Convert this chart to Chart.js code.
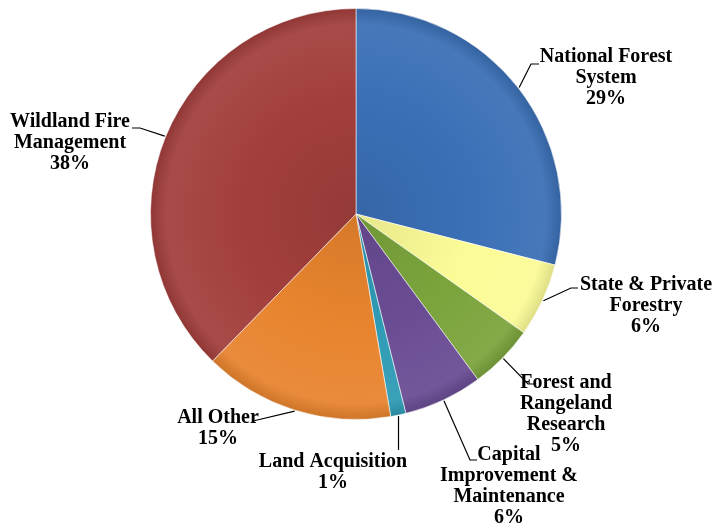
<!DOCTYPE html>
<html>
<head>
<meta charset="utf-8">
<script src="https://cdn.jsdelivr.net/npm/chart.js@4.4.0/dist/chart.umd.min.js"></script>
<style>
  html, body { margin: 0; padding: 0; background: #fff; }
</style>
</head>
<body>
<canvas id="budgetChart" width="712" height="529"></canvas>
<script>
// Data
const categories = ['National Forest System', 'State & Private Forestry', 'Forest and Rangeland Research',
  'Capital Improvement & Maintenance', 'Land Acquisition', 'All Other', 'Wildland Fire Management'];
const shares = [29.0, 5.8, 5.1, 6.2, 1.2, 15.0, 37.7];
const pctLabels = ['29%', '6%', '5%', '6%', '1%', '15%', '38%'];
const labelLines = [
  ['National Forest', 'System'],
  ['State & Private', 'Forestry'],
  ['Forest and', 'Rangeland', 'Research'],
  ['Capital', 'Improvement &', 'Maintenance'],
  ['Land Acquisition'],
  ['All Other'],
  ['Wildland Fire', 'Management']
];

// Slice colours (base)
const sliceColors = ['#3b6fb6', '#fbfb97', '#7ba43c', '#6a4c94', '#2e9bb4', '#e8842e', '#a23f3c'];

// Where each label sits: text centre x, first line y, and the leader line bend/end
const labelLayout = [
  { x: 606, y: 57, bend: [531, 64], end: [539, 64] },
  { x: 646, y: 285, bend: [571, 288], end: [578, 288] },
  { x: 566, y: 383, bend: [528, 384], end: [534, 384] },
  { x: 509, y: 455, bend: [470, 460], end: [477, 460] },
  { x: 333, y: 462, bend: null, end: [null, 450] },
  { x: 218, y: 418, bend: null, end: [253, 421] },
  { x: 70, y: 122, bend: [140, 128], end: [132, 128] }
];

const FONT = 'bold 20px "Liberation Serif"';

function shade(hex, amt) {
  const n = parseInt(hex.slice(1), 16);
  let r = (n >> 16) & 255, g = (n >> 8) & 255, b = n & 255;
  const f = v => Math.max(0, Math.min(255, Math.round(amt >= 0 ? v + (255 - v) * amt : v * (1 + amt))));
  return `rgb(${f(r)},${f(g)},${f(b)})`;
}

// Bevel-ish radial shading per slice
function sliceFill(ctx) {
  const chart = ctx.chart;
  const area = chart.chartArea;
  const base = sliceColors[ctx.dataIndex];
  if (!area) return base;
  const cx = (area.left + area.right) / 2;
  const cy = (area.top + area.bottom) / 2;
  const r = Math.min(area.right - area.left, area.bottom - area.top) / 2;
  const g = chart.ctx.createRadialGradient(cx, cy, 0, cx, cy, r);
  g.addColorStop(0, shade(base, -0.08));
  g.addColorStop(0.55, base);
  g.addColorStop(0.92, shade(base, 0.06));
  g.addColorStop(1, shade(base, -0.12));
  return g;
}

// Outside labels with leader lines
const outsideLabels = {
  id: 'outsideLabels',
  afterDatasetsDraw(chart) {
    const ctx = chart.ctx;
    const meta = chart.getDatasetMeta(0);
    ctx.save();
    ctx.strokeStyle = '#000';
    ctx.lineWidth = 1.2;
    ctx.fillStyle = '#000';
    ctx.font = FONT;
    ctx.textAlign = 'center';
    ctx.textBaseline = 'middle';
    meta.data.forEach((arc, i) => {
      const p = arc.getProps(['x', 'y', 'startAngle', 'endAngle', 'outerRadius'], true);
      const mid = (p.startAngle + p.endAngle) / 2;
      const ax = p.x + Math.cos(mid) * (p.outerRadius + 1);
      const ay = p.y + Math.sin(mid) * (p.outerRadius + 1);
      const lay = labelLayout[i];
      ctx.beginPath();
      ctx.moveTo(ax, ay);
      if (lay.bend) ctx.lineTo(lay.bend[0], lay.bend[1]);
      ctx.lineTo(lay.end[0] === null ? ax : lay.end[0], lay.end[1]);
      ctx.stroke();
      const lines = labelLines[i].concat([pctLabels[i]]);
      lines.forEach((t, k) => ctx.fillText(t, lay.x, lay.y + k * 21));
    });
    ctx.restore();
  }
};

function draw() {
  new Chart(document.getElementById('budgetChart'), {
    type: 'pie',
    data: {
      labels: categories,
      datasets: [{
        data: shares,
        backgroundColor: sliceFill,
        borderColor: 'rgba(255,255,255,0.55)',
        borderWidth: 1
      }]
    },
    options: {
      responsive: false,
      animation: false,
      layout: { padding: { left: 150, right: 150, top: 8, bottom: 109 } },
      plugins: {
        legend: { display: false },
        tooltip: { enabled: false }
      }
    },
    plugins: [outsideLabels]
  });
}

document.fonts.load(FONT).then(draw, draw);
</script>
</body>
</html>
